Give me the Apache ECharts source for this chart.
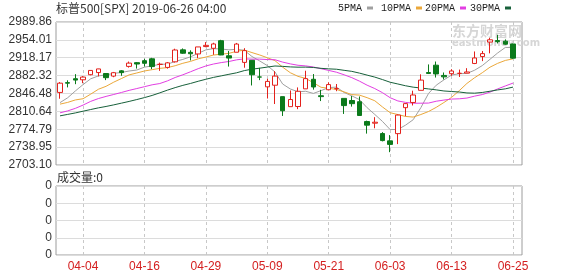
<!DOCTYPE html>
<html><head><meta charset="utf-8">
<script src="https://cdn.jsdelivr.net/npm/echarts@6/dist/echarts.min.js"></script>
<style>html,body{margin:0;padding:0;background:#fff}#c{width:578px;height:276px}</style>
</head><body><div id="c"></div>
<script>
const titleText = '标普500[SPX] 2019-06-26 04:00';
const volTitle = '成交量:0';
const legendNames = ['5PMA', '10PMA', '20PMA', '30PMA'];
const dates = ['04-01','04-02','04-03','04-04','04-05','04-08','04-09','04-10','04-11','04-12','04-15','04-16','04-17','04-18','04-22','04-23','04-24','04-25','04-26','04-29','04-30','05-01','05-02','05-03','05-06','05-07','05-08','05-09','05-10','05-13','05-14','05-15','05-16','05-17','05-20','05-21','05-22','05-23','05-24','05-28','05-29','05-30','05-31','06-03','06-04','06-05','06-06','06-07','06-10','06-11','06-12','06-13','06-14','06-17','06-18','06-19','06-20','06-21','06-24','06-25'];
const open = [2848.63,2868.24,2876.09,2873.99,2884.16,2888.46,2886.58,2881.37,2891.92,2900.86,2908.32,2912.26,2916.04,2904.81,2898.78,2909.99,2934.00,2928.99,2925.81,2940.58,2937.14,2952.33,2922.16,2929.21,2908.89,2913.03,2879.61,2859.84,2863.10,2840.19,2820.12,2820.38,2855.80,2875.00,2841.94,2854.02,2856.06,2836.70,2832.41,2830.03,2790.25,2786.94,2766.15,2751.53,2766.00,2818.09,2828.51,2852.87,2888.50,2903.27,2882.73,2886.24,2886.82,2887.30,2906.71,2920.55,2949.60,2952.71,2951.42,2945.78];
const high = [2869.40,2872.90,2885.25,2881.28,2893.24,2895.95,2886.88,2889.71,2893.42,2910.54,2909.60,2916.06,2918.00,2908.40,2909.51,2936.31,2936.83,2933.10,2939.88,2949.52,2948.22,2954.13,2931.68,2947.85,2937.32,2913.03,2897.96,2875.97,2891.31,2840.19,2852.54,2858.68,2892.15,2885.48,2853.86,2868.88,2865.47,2836.70,2841.36,2840.51,2792.03,2799.00,2768.98,2763.07,2804.49,2827.28,2852.10,2884.97,2904.77,2910.61,2888.57,2895.24,2894.45,2897.27,2930.79,2931.74,2958.06,2964.15,2954.92,2946.52];
const low = [2836.00,2858.75,2865.17,2867.14,2882.99,2880.78,2873.33,2879.13,2881.99,2898.37,2896.48,2900.71,2895.45,2891.90,2896.35,2908.53,2926.05,2912.84,2917.56,2939.35,2924.11,2923.36,2900.50,2929.21,2898.21,2862.60,2873.28,2836.40,2825.39,2801.43,2820.12,2815.08,2855.80,2854.23,2831.29,2854.02,2851.11,2805.49,2820.19,2801.58,2766.06,2776.74,2750.52,2728.81,2745.00,2800.92,2822.45,2852.87,2885.51,2878.53,2874.68,2881.99,2879.62,2887.30,2905.44,2911.43,2927.00,2946.87,2944.05,2916.01];
const close = [2867.19,2867.24,2873.40,2879.39,2892.74,2895.77,2878.20,2888.21,2888.32,2907.41,2905.58,2907.06,2900.45,2905.03,2907.97,2933.68,2927.25,2926.17,2939.88,2943.03,2945.83,2923.73,2917.52,2945.64,2932.47,2884.05,2879.42,2870.72,2881.40,2811.87,2834.41,2850.96,2876.32,2859.53,2840.23,2864.36,2856.27,2822.24,2826.06,2802.39,2783.02,2788.86,2752.06,2744.45,2803.27,2826.15,2843.49,2873.34,2886.73,2885.72,2879.84,2891.64,2886.98,2889.67,2917.75,2926.46,2954.18,2950.46,2945.35,2917.38];
const ma5 = [2828.17,2837.93,2851.53,2864.32,2875.99,2881.71,2883.90,2886.86,2888.65,2891.58,2893.54,2899.32,2901.76,2905.11,2905.22,2910.84,2914.88,2920.02,2926.99,2934.00,2936.43,2935.73,2934.00,2935.15,2933.04,2920.68,2911.82,2902.46,2889.61,2865.49,2855.56,2849.87,2850.99,2846.62,2852.29,2858.28,2859.34,2848.53,2841.83,2834.26,2818.00,2804.51,2790.48,2774.16,2774.33,2782.96,2793.88,2818.14,2846.60,2863.09,2873.82,2883.45,2886.18,2886.77,2893.18,2902.50,2915.01,2927.70,2938.84,2938.77];
const ma10 = [2825.16,2828.63,2833.55,2836.00,2845.20,2854.94,2860.91,2869.20,2876.49,2883.79,2887.63,2891.61,2894.31,2896.88,2898.40,2902.19,2907.10,2910.89,2916.05,2919.61,2923.64,2925.30,2927.01,2931.07,2933.52,2928.56,2923.77,2918.23,2912.38,2899.27,2888.12,2880.85,2876.73,2868.12,2858.89,2856.92,2854.61,2849.76,2844.23,2843.28,2838.14,2831.93,2819.50,2807.99,2804.30,2800.48,2799.20,2804.31,2810.38,2818.71,2828.39,2838.67,2852.16,2866.68,2878.13,2888.16,2899.23,2906.94,2912.81,2915.97];
const ma20 = [2807.72,2811.60,2816.69,2823.22,2830.70,2836.32,2840.66,2844.52,2848.52,2852.76,2856.39,2860.12,2863.93,2866.44,2871.80,2878.57,2884.01,2890.05,2896.27,2901.70,2905.63,2908.46,2910.66,2913.97,2915.96,2915.37,2915.44,2914.56,2914.21,2909.44,2905.88,2903.07,2901.87,2899.59,2896.21,2892.74,2889.19,2883.99,2878.30,2871.27,2863.13,2856.39,2848.11,2838.05,2831.59,2828.70,2826.90,2827.03,2827.30,2830.99,2833.26,2835.30,2835.83,2837.34,2841.21,2844.32,2849.22,2855.63,2861.59,2867.34];
const ma30 = [2801.66,2804.57,2807.53,2811.01,2814.35,2817.67,2820.48,2823.68,2827.14,2830.59,2834.35,2838.27,2842.57,2847.77,2853.27,2858.28,2862.80,2866.65,2871.03,2875.04,2878.81,2881.85,2884.96,2887.98,2892.37,2895.23,2897.26,2899.44,2901.64,2900.89,2899.79,2899.25,2899.35,2898.69,2896.94,2895.89,2895.16,2892.96,2890.88,2887.38,2883.30,2879.36,2874.41,2869.06,2865.57,2861.99,2859.19,2857.43,2855.66,2853.75,2851.55,2850.48,2849.46,2847.60,2847.11,2848.52,2851.01,2853.67,2855.80,2859.32];
const priceTicks = ['2703.10','2738.95','2774.79','2810.64','2846.48','2882.32','2918.17','2954.01','2989.86'];
const volTicks = ['0','0','0','0','0'];

const pMin = parseFloat(priceTicks[0]);
const pMax = parseFloat(priceTicks[priceTicks.length - 1]);
const pStep = (pMax - pMin) / (priceTicks.length - 1);
const candleData = dates.map((d, i) => [open[i], close[i], low[i], high[i]]);
const maColors = ['#a0a0a0', '#eba83a', '#e23ee2', '#17603a'];
const maData = [ma5, ma10, ma20, ma30];
const legendLeft = [338, 381, 425, 470];
const labelEvery = (i) => i % 8 === 3;
const axisFont = 'Liberation Sans';

const chart = echarts.init(document.getElementById('c'), null, {renderer: 'canvas'});
chart.setOption({
  animation: false,
  backgroundColor: '#fff',
  title: [
    {text: titleText, left: 56, top: 2, padding: 0,
     textStyle: {fontSize: 12, fontWeight: 'normal', color: '#333', fontFamily: 'Noto Sans CJK SC'}},
    {text: volTitle, left: 57, top: 171, padding: 0,
     textStyle: {fontSize: 12, fontWeight: 'normal', color: '#333', fontFamily: 'Noto Sans CJK SC'}}
  ],
  legend: legendNames.map((n, k) => ({
    data: [n], left: legendLeft[k], top: 3, padding: 0, align: 'right',
    icon: 'rect', itemWidth: 6, itemHeight: 3, selectedMode: false,
    textStyle: {fontSize: 10, color: '#222', fontFamily: 'Liberation Mono'}
  })),
  graphic: [
    {type: 'text', left: 452, top: 24, z: 0, silent: true,
     style: {text: '东方财富网', fill: '#d6d6d6', font: 'bold 14px "Noto Sans CJK SC"'}},
    {type: 'text', left: 452, top: 38, z: 0, silent: true,
     style: {text: 'eastmoney.com', fill: '#d6d6d6', font: 'bold 10px "DejaVu Sans"'}}
  ],
  grid: [
    {left: 56, top: 22, width: 466, height: 143, show: true, borderColor: '#9c9c9c', borderWidth: 1, backgroundColor: 'transparent'},
    {left: 60, top: 22, width: 453, height: 143},
    {left: 56, top: 186, width: 466, height: 69, show: true, borderColor: '#9c9c9c', borderWidth: 1, backgroundColor: 'transparent'},
    {left: 60, top: 186, width: 453, height: 69}
  ],
  xAxis: [
    {gridIndex: 0, type: 'category', data: dates, show: false},
    {gridIndex: 1, type: 'category', data: dates, boundaryGap: false,
     axisLine: {show: false}, axisTick: {show: false}, axisLabel: {show: false},
     splitLine: {show: true, interval: labelEvery, lineStyle: {color: '#c8c8c8', type: [3, 3], width: 1}}},
    {gridIndex: 2, type: 'category', data: dates, show: false},
    {gridIndex: 3, type: 'category', data: dates, boundaryGap: false,
     axisLine: {show: false}, axisTick: {show: false},
     axisLabel: {show: true, interval: labelEvery, color: '#d42020', fontSize: 12, margin: 6, fontFamily: axisFont},
     splitLine: {show: true, interval: labelEvery, lineStyle: {color: '#c8c8c8', type: [3, 3], width: 1}}}
  ],
  yAxis: [
    {gridIndex: 0, type: 'value', min: pMin, max: pMax, interval: pStep,
     axisLine: {show: false}, axisTick: {show: false},
     axisLabel: {color: '#333', fontSize: 12, margin: 4, fontFamily: axisFont,
       formatter: (v) => priceTicks[Math.round((v - pMin) / pStep)] || ''},
     splitLine: {show: true, lineStyle: {color: '#dcdcdc', width: 1}}},
    {gridIndex: 1, type: 'value', min: pMin, max: pMax, show: false, splitLine: {show: false}},
    {gridIndex: 2, type: 'value', min: 0, max: volTicks.length - 1, interval: 1,
     axisLine: {show: false}, axisTick: {show: false},
     axisLabel: {color: '#333', fontSize: 12, margin: 4, fontFamily: axisFont,
       formatter: (v) => volTicks[Math.round(v)]},
     splitLine: {show: true, lineStyle: {color: '#dcdcdc', width: 1}}},
    {gridIndex: 3, type: 'value', min: 0, max: volTicks.length - 1, show: false, splitLine: {show: false}}
  ],
  series: [
    {type: 'candlestick', name: 'K', xAxisIndex: 1, yAxisIndex: 1, data: candleData,
     barWidth: 5, clip: false, z: 3,
     itemStyle: {color: '#ffffff', color0: '#0b7a1b', borderColor: '#e3211c', borderColor0: '#0b7a1b', borderWidth: 1}},
  ].concat(legendNames.map((n, k) => ({
    type: 'line', name: n, xAxisIndex: 1, yAxisIndex: 1, data: maData[k],
    showSymbol: false, symbol: 'none', smooth: false, z: 2,
    lineStyle: {color: maColors[k], width: 1}, itemStyle: {color: maColors[k]}
  })))
});
</script>
</body></html>
